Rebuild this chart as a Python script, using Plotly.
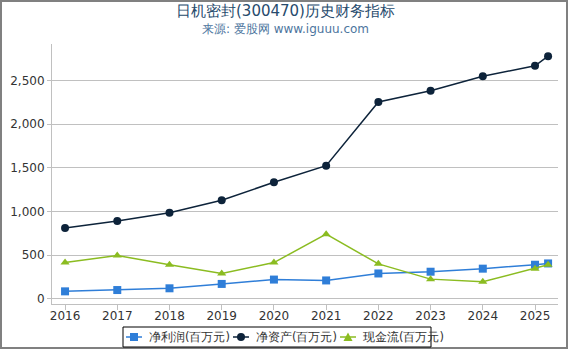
import plotly.graph_objects as go

x_vals = [2016, 2017, 2018, 2019, 2020, 2021, 2022, 2023, 2024, 2025, 2025.25]
tick_vals = [2016, 2017, 2018, 2019, 2020, 2021, 2022, 2023, 2024, 2025]
tick_text = ["2016", "2017", "2018", "2019", "2020", "2021", "2022", "2023", "2024", "2025"]

net_profit = [85, 100, 120, 170, 220, 210, 290, 310, 345, 390, 405]
net_assets = [810, 890, 985, 1130, 1335, 1525, 2255, 2385, 2550, 2670, 2780]
cash_flow = [415, 495, 390, 290, 415, 740, 400, 225, 195, 345, 390]

series_names = ["净利润(百万元)", "净资产(百万元)", "现金流(百万元)"]
series_colors = ["#2f7ed8", "#0d233a", "#8bbc21"]
series_symbols = ["square", "circle", "triangle-up"]
series_values = [net_profit, net_assets, cash_flow]

L, R, T, B = 52, 12, 44, 46
W, H = 570, 350
PW, PH = W - L - R, H - T - B


def px(xp):
    return (xp - L) / PW


def py(yp):
    return (H - B - yp) / PH


fig = go.Figure()
for name, color, sym, vals in zip(series_names, series_colors, series_symbols, series_values):
    fig.add_trace(go.Scatter(x=x_vals, y=vals, name=name, mode="lines+markers",
                             line=dict(color=color, width=1.5),
                             marker=dict(symbol=sym, size=8, color=color),
                             showlegend=False))

shapes = []
annotations = [
    dict(text="日机密封(300470)历史财务指标", xref="paper", yref="paper",
         x=px(285), y=py(11), xanchor="center", yanchor="middle",
         showarrow=False, font=dict(size=15, color="#274b6d")),
    dict(text="来源: 爱股网 www.iguuu.com", xref="paper", yref="paper",
         x=px(285), y=py(29), xanchor="center", yanchor="middle",
         showarrow=False, font=dict(size=12, color="#4d759e")),
]

# outer frame
shapes.append(dict(type="rect", xref="paper", yref="paper",
                   x0=px(1), x1=px(567), y0=py(348), y1=py(1),
                   line=dict(color="#808080", width=2), fillcolor="rgba(0,0,0,0)", layer="below"))
# legend box
shapes.append(dict(type="rect", xref="paper", yref="paper",
                   x0=px(123), x1=px(431), y0=py(347), y1=py(327),
                   line=dict(color="#000000", width=1), fillcolor="rgba(0,0,0,0)"))
leg_y = 337
item_starts = [126, 233, 340]
for start, name, color, sym in zip(item_starts, series_names, series_colors, series_symbols):
    shapes.append(dict(type="line", xref="paper", yref="paper",
                       x0=px(start), x1=px(start + 16), y0=py(leg_y), y1=py(leg_y),
                       line=dict(color=color, width=1.5)))
    cx = start + 8
    if sym == "square":
        shapes.append(dict(type="rect", xref="paper", yref="paper",
                           x0=px(cx - 4), x1=px(cx + 4), y0=py(leg_y + 4), y1=py(leg_y - 4),
                           line=dict(width=0), fillcolor=color))
    elif sym == "circle":
        shapes.append(dict(type="circle", xref="paper", yref="paper",
                           x0=px(cx - 4), x1=px(cx + 4), y0=py(leg_y + 4), y1=py(leg_y - 4),
                           line=dict(width=0), fillcolor=color))
    else:
        path = "M {} {} L {} {} L {} {} Z".format(px(cx - 4.5), py(leg_y + 4),
                                                  px(cx + 4.5), py(leg_y + 4),
                                                  px(cx), py(leg_y - 4.5))
        shapes.append(dict(type="path", xref="paper", yref="paper", path=path,
                           line=dict(width=0), fillcolor=color))
    annotations.append(dict(text=name, xref="paper", yref="paper",
                            x=px(start + 21), y=py(leg_y), xanchor="left", yanchor="middle",
                            showarrow=False, font=dict(size=11.5, color="#333333")))

fig.update_layout(
    width=W, height=H,
    margin=dict(l=L, r=R, t=T, b=B, autoexpand=False),
    paper_bgcolor="white", plot_bgcolor="white",
    font=dict(family="DejaVu Sans", size=12, color="#333333"),
    showlegend=False,
    xaxis=dict(range=[2015.75, 2025.44], tickvals=tick_vals, ticktext=tick_text,
               showgrid=False, showline=True, linecolor="#c0c0c0", linewidth=1,
               ticks="outside", ticklen=5, tickcolor="#c0c0c0", zeroline=False,
               ticklabelstandoff=-4,
               tickfont=dict(size=12, color="#333333")),
    yaxis=dict(range=[-60, 2920], tickvals=[0, 500, 1000, 1500, 2000, 2500],
               tickformat=",", showgrid=True, gridcolor="#c0c0c0", gridwidth=1,
               showline=True, linecolor="#c0c0c0", linewidth=1,
               ticks="outside", ticklen=4, tickcolor="#c0c0c0", zeroline=False,
               tickfont=dict(size=12, color="#333333")),
    shapes=shapes,
    annotations=annotations,
)
fig.write_html("out.html")
